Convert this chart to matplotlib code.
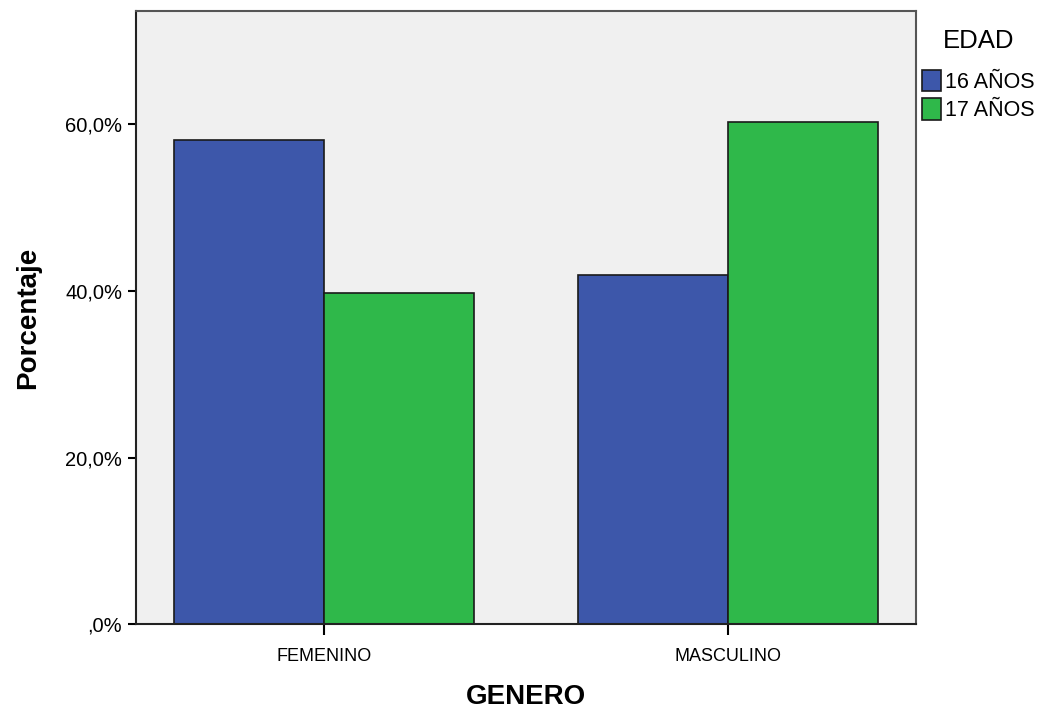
import matplotlib
matplotlib.use("Agg")
import matplotlib.pyplot as plt
import numpy as np
from matplotlib.ticker import FuncFormatter

categories = ["FEMENINO", "MASCULINO"]
series_names = ["16 AÑOS", "17 AÑOS"]
vals_16 = [58.1, 41.9]
vals_17 = [39.7, 60.3]
yticks = [0, 20, 40, 60]
colors = ["#3d57aa", "#2fb84a"]

plt.rcParams['font.family'] = ['Liberation Sans', 'DejaVu Sans']

fig = plt.figure(figsize=(10.41, 7.11), dpi=100)
ax = fig.add_axes([136/1041, 1-624.3/711, (916-136)/1041, (624.3-11)/711])
ax.set_facecolor("#f0f0f0")

x = np.arange(len(categories))
w = 0.371
ax.bar(x - w/2, vals_16, w, color=colors[0], edgecolor="#1a1a1a", linewidth=1.2, label=series_names[0])
ax.bar(x + w/2, vals_17, w, color=colors[1], edgecolor="#1a1a1a", linewidth=1.2, label=series_names[1])

ax.set_xlim(-0.465, 1.465)
ax.set_ylim(0, 73.6)
ax.set_yticks(yticks)
ax.yaxis.set_major_formatter(FuncFormatter(lambda v, p: ("%.1f%%" % v).replace(".", ",") if v != 0 else ",0%"))
ax.set_xticks(x)
ax.set_xticklabels(categories)
ax.tick_params(axis='y', labelsize=14.5, length=6, width=1.5, pad=4)
ax.tick_params(axis='x', labelsize=13, length=8, width=1.5, pad=9)
for s in ax.spines.values():
    s.set_color("#555555")
    s.set_linewidth(1.5)
ax.spines['left'].set_color("#222222")
ax.spines['bottom'].set_color("#222222")

ax.set_ylabel("Porcentaje", fontsize=20, fontweight='bold', labelpad=17)
ax.set_xlabel("GENERO", fontsize=20, fontweight='bold', labelpad=14)

leg = fig.legend(loc='upper left', bbox_to_anchor=(918/1041, 1-25/711), frameon=False,
                 title="EDAD", fontsize=15.5, title_fontsize=18.5, handlelength=0.85,
                 handleheight=1.15, handletextpad=0.2, labelspacing=0.25, borderaxespad=0,
                 borderpad=0.2)
leg._legend_box.sep = 12
for p in leg.get_patches():
    p.set_edgecolor("#1a1a1a")

fig.savefig("out.png", dpi=100)
